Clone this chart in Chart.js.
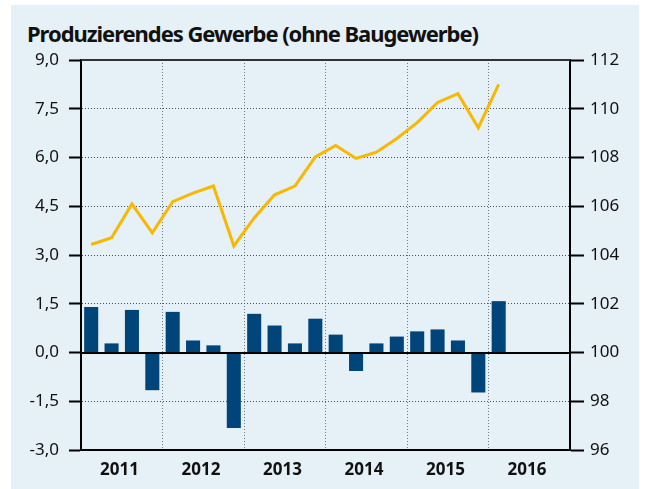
<!DOCTYPE html>
<html><head><meta charset="utf-8">
<script src="https://cdn.jsdelivr.net/npm/chart.js@4.4.1/dist/chart.umd.min.js"></script>
<style>
html,body{margin:0;padding:0;background:#fff;}
#wrap{position:relative;width:646px;height:489px;overflow:hidden;}
#panel{position:absolute;left:11px;top:5px;width:628px;height:484px;background:#e6f0f7;}
#title{position:absolute;left:27px;top:22px;font:700 22px/22px "Noto Sans";color:#111;white-space:nowrap;}
#c{position:absolute;left:0;top:0;}
</style></head><body>
<div id="wrap"><div id="panel"></div><div id="title">Produzierendes Gewerbe (ohne Baugewerbe)</div><canvas id="c" width="646" height="489"></canvas></div>
<script>
const years = [2011, 2012, 2013, 2014, 2015, 2016];
const quarterNames = ['Q1', 'Q2', 'Q3', 'Q4'];
const categories = years.flatMap(y => quarterNames.map(q => y + ' ' + q));
// Veränderung gegenüber Vorquartal in % (linke Achse)
const changeValues = [1.40, 0.28, 1.31, -1.16, 1.25, 0.37, 0.22, -2.32, 1.19, 0.83, 0.28, 1.04, 0.55, -0.57, 0.28, 0.49, 0.65, 0.71, 0.37, -1.23, 1.58];
// Index (rechte Achse)
const indexValues = [104.43, 104.71, 106.09, 104.91, 106.19, 106.54, 106.83, 104.37, 105.52, 106.47, 106.83, 108.02, 108.49, 107.96, 108.22, 108.78, 109.43, 110.26, 110.62, 109.22, 111.0];
const leftTicks = [-3, -1.5, 0, 1.5, 3, 4.5, 6, 7.5, 9];
const rightTicks = [96, 98, 100, 102, 104, 106, 108, 110, 112];

// fit title width
(function(){
  const t = document.getElementById('title');
  const target = 452;
  const w = t.getBoundingClientRect().width;
  const n = t.textContent.length - 1;
  t.style.letterSpacing = ((target - w) / n) + 'px';
})();

const FONT = '"Noto Sans"';
const refLines = {
  id: 'refLines',
  afterDatasetsDraw(chart) {
    const {ctx, chartArea: a, scales: {y}} = chart;
    ctx.save();
    ctx.strokeStyle = '#000';
    ctx.lineWidth = 2;
    const y0 = Math.round(y.getPixelForValue(0));
    ctx.beginPath(); ctx.moveTo(a.left, y0); ctx.lineTo(a.right, y0); ctx.stroke();
    ctx.strokeStyle = '#333';
    const yt = Math.round(y.getPixelForValue(leftTicks[leftTicks.length - 1]));
    ctx.beginPath(); ctx.moveTo(a.left, yt); ctx.lineTo(a.right, yt); ctx.stroke();
    ctx.restore();
  }
};

new Chart(document.getElementById('c'), {
  data: {
    labels: categories,
    datasets: [
      {type: 'line', data: indexValues, yAxisID: 'y1', borderColor: '#f8b800', borderWidth: 3,
       pointRadius: 0, tension: 0, order: 0, borderJoinStyle: 'miter'},
      {type: 'bar', data: changeValues, yAxisID: 'y', backgroundColor: '#00457a',
       barPercentage: 0.69, categoryPercentage: 1, order: 1}
    ]
  },
  options: {
    responsive: false, animation: false,
    layout: {padding: {top: 60, left: 0, right: 0, bottom: 0}},
    plugins: {legend: {display: false}, tooltip: {enabled: false}},
    scales: {
      x: {
        type: 'category', offset: true,
        grid: {offset: true, drawTicks: false, lineWidth: 1,
               color: c => (c.index % 4 === 0 && c.index > 0 && c.index < categories.length) ? '#6f767d' : 'transparent'},
        border: {display: true, color: '#000', width: 2, dash: [1, 2]},
        ticks: {autoSkip: false, maxRotation: 0, minRotation: 0, labelOffset: 8, padding: 10,
                color: '#111', font: {family: FONT, size: 17, weight: 'bold'},
                callback: (v, i) => (i % 4 === 1) ? String(years[Math.floor(i / 4)]) : ''},
        afterFit: s => { s.height = 39; }
      },
      y: {
        position: 'left', min: leftTicks[0], max: leftTicks[leftTicks.length - 1],
        afterBuildTicks: s => { s.ticks = leftTicks.map(v => ({value: v})); },
        grid: {color: '#4a4f55', lineWidth: 1, tickLength: 12, tickColor: '#000', tickWidth: 2, tickBorderDash: []},
        border: {display: true, color: '#000', width: 2, dash: [1, 2]},
        ticks: {padding: 10, color: '#111', font: {family: FONT, size: 17},
                callback: v => Number(v).toFixed(1).replace('.', ',')},
        afterFit: s => { s.width = 81; }
      },
      y1: {
        position: 'right', min: rightTicks[0], max: rightTicks[rightTicks.length - 1],
        afterBuildTicks: s => { s.ticks = rightTicks.map(v => ({value: v})); },
        grid: {drawOnChartArea: false, tickLength: 14, tickColor: '#000', tickWidth: 2},
        border: {display: true, color: '#000', width: 2},
        ticks: {padding: 6, color: '#111', font: {family: FONT, size: 17}, callback: v => String(v)},
        afterFit: s => { s.width = 76; }
      }
    }
  },
  plugins: [refLines]
});
</script>
</body></html>
